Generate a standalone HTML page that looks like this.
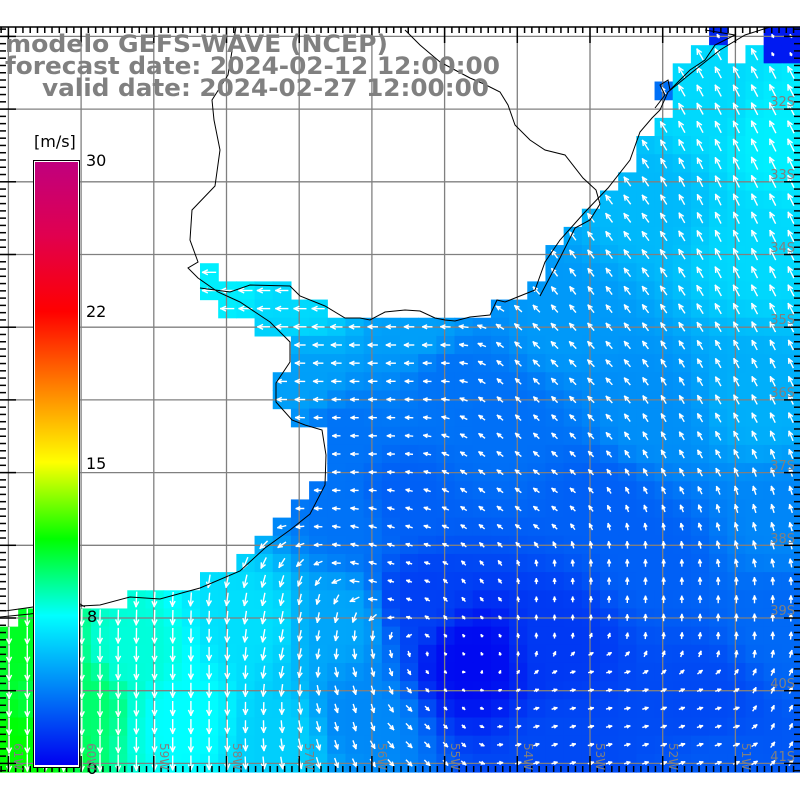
<!DOCTYPE html>
<html><head><meta charset="utf-8"><style>
html,body{margin:0;padding:0;background:#fff;width:800px;height:800px;overflow:hidden}
svg{display:block}
</style></head><body>
<svg id="s" width="800" height="800" xmlns="http://www.w3.org/2000/svg">
<rect width="800" height="800" fill="#fff"/>
<g id="cells"></g>
<g id="grid" stroke="#808080" stroke-width="1.3" fill="none"></g>
<g id="arrows" stroke="#fff" stroke-width="1.4" fill="none" stroke-linecap="square"></g>
<g id="coast" stroke="#000" stroke-width="1" fill="none">
<polyline points="0,617 30,614 60,610 80,606 100,605 130,597 160,599 200,588 240,571 265,548 290,530 310,514 325,485 326,455 322,430 305,425 292,420 276,402 276,383 290,362 290,342 270,322 240,302 218,292 198,278 188,268 198,262 190,240 192,210 215,186 220,150 214,120 212,100 228,75 233,45 236,27"/>
<polyline points="5,611 40,606 80,604 85,607"/>
<polyline points="200,288 230,292 250,285 290,286 300,296 325,306 345,318 360,318 370,320 385,312 405,310 420,311 435,318 445,320 455,321 470,317 490,315 497,300 505,302 520,296 535,290 545,262 560,240 585,212 608,188 630,160 640,132 652,118 660,110 668,92 690,74 720,50 745,35 770,27"/>
<polyline points="540,296 560,258 575,228 590,220 600,204 596,190 583,178 565,155 545,150 530,140 515,125 508,105 500,92 484,84 470,78 455,70 440,62 420,45 405,30"/>
<polyline points="655,108 665,95 660,85 668,80 670,90 680,80 690,70 705,60 715,45 725,40 735,35 705,30"/>
</g>
<g id="frame" stroke="#000" stroke-width="1.5"></g>
<g font-family="'DejaVu Sans','Liberation Sans',sans-serif" font-weight="bold" font-size="24" fill="#808080">
<text x="5" y="52" textLength="383" lengthAdjust="spacingAndGlyphs">modelo GEFS-WAVE (NCEP)</text>
<text x="5" y="74" textLength="495" lengthAdjust="spacingAndGlyphs">forecast date: 2024-02-12 12:00:00</text>
<text x="42" y="96" textLength="447" lengthAdjust="spacingAndGlyphs">valid date: 2024-02-27 12:00:00</text>
</g>
<defs><linearGradient id="cb" x1="0" y1="1" x2="0" y2="0">
<stop offset="0" stop-color="#0000f0"/>
<stop offset="0.248" stop-color="#00ffff"/>
<stop offset="0.375" stop-color="#00ff00"/>
<stop offset="0.502" stop-color="#ffff00"/>
<stop offset="0.627" stop-color="#ff8000"/>
<stop offset="0.752" stop-color="#ff0000"/>
<stop offset="0.88" stop-color="#e00050"/>
<stop offset="1" stop-color="#c0007e"/>
</linearGradient></defs>
<rect x="33" y="160" width="47" height="608" fill="#000"/>
<rect x="34" y="161" width="45" height="606" fill="#fff"/>
<rect x="35" y="162" width="43" height="603" fill="url(#cb)"/>
<g font-family="'DejaVu Sans','Liberation Sans',sans-serif" font-size="16" fill="#000">
<text x="34" y="147">[m/s]</text>
<text x="86" y="166">30</text>
<text x="86" y="317">22</text>
<text x="86" y="469">15</text>
<text x="87" y="622">8</text>
<text x="87" y="774">0</text>
</g>
<g font-family="'DejaVu Sans','Liberation Sans',sans-serif" font-size="13" fill="#808080" text-anchor="end">
<text x="795" y="106">32S</text><text x="795" y="179">33S</text><text x="795" y="252">34S</text>
<text x="795" y="324">35S</text><text x="795" y="397">36S</text><text x="795" y="470">37S</text>
<text x="795" y="543">38S</text><text x="795" y="615">39S</text><text x="795" y="688">40S</text>
<text x="795" y="761">41S</text>
</g>
<g font-family="'DejaVu Sans','Liberation Sans',sans-serif" font-size="12" fill="#808080">
<text transform="translate(14,743) rotate(90)">61W</text>
<text transform="translate(87,743) rotate(90)">60W</text>
<text transform="translate(160,743) rotate(90)">59W</text>
<text transform="translate(233,743) rotate(90)">58W</text>
<text transform="translate(305,743) rotate(90)">57W</text>
<text transform="translate(378,743) rotate(90)">56W</text>
<text transform="translate(451,743) rotate(90)">55W</text>
<text transform="translate(524,743) rotate(90)">54W</text>
<text transform="translate(596,743) rotate(90)">53W</text>
<text transform="translate(669,743) rotate(90)">52W</text>
<text transform="translate(742,743) rotate(90)">51W</text>
</g>
</svg>
<script>
(function(){
var NS="http://www.w3.org/2000/svg";
function el(t,a,p){var e=document.createElementNS(NS,t);for(var k in a)e.setAttribute(k,a[k]);p.appendChild(e);return e;}
var CW=800/44, RH=745/41, Y0=27;
var rowStart={13:11,14:11,15:12,16:14,17:16,18:16,19:15,20:15,21:16,22:18,23:18,24:18,25:17,26:16,27:15,28:14,29:13,30:11,31:7,32:1};
var colTop={18:16,19:16,20:16,21:16,22:16,23:16,24:16,25:16,26:16,27:15,28:15,29:14,30:12,31:11,32:10,33:9,34:8,35:6,36:5,37:2,38:1,39:0,40:2,41:1,42:0,43:0};
function isSea(c,r){
  if(c==36&&r==3) return true;
  if(c>=18){ if(r<colTop[c]) return false; }
  if(r<13) return c>=18 && r>=colTop[c];
  if(r==13) return c==11 || (c>=18&&r>=colTop[c]);
  if(r==14) return (c>=11&&c<=15) || (c>=18&&r>=colTop[c]);
  if(r==15) return (c>=12&&c<=17) || (c>=18&&r>=colTop[c]);
  if(r>=33) return true;
  return c>=rowStart[r];
}
var sp=[[20,640,11],[20,760,11.5],[80,700,10],[130,650,8.5],[180,720,8],[250,620,7],[280,740,6.5],[340,620,5.2],[360,720,4.3],[470,660,0.3],[420,600,2],[560,640,1.8],[700,700,2.3],[780,620,3.3],[650,560,3],[400,500,3],[340,440,3.6],[500,420,3.5],[450,380,3.6],[350,520,3.6],[300,380,5],[220,280,7.5],[300,300,6.8],[420,330,5],[560,320,4.8],[650,420,4.5],[760,400,5.5],[760,250,6.8],[650,200,5.8],[700,100,6.8],[780,140,7.5],[600,500,3],[780,520,4.2],[560,760,2.3],[720,770,2.8]];
var dp=[[50,700,0,1],[200,680,0,1],[300,650,-0.2,1],[350,700,0.3,1],[420,730,0.7,0.7],[250,300,-1,0],[400,350,-1,0],[350,450,-1,0],[400,550,-1,-0.3],[480,600,-0.5,-0.6],[550,600,0,-1],[650,600,0,-1],[750,620,0,-1],[600,700,1,-0.2],[720,720,1,-0.3],[780,700,0.4,-0.9],[550,400,-0.7,-0.7],[600,250,-0.6,-0.8],[750,200,-0.45,-0.9],[700,450,-0.5,-0.85],[520,500,-0.8,-0.6],[750,520,-0.3,-0.95],[560,740,1,-0.3]];
function idw(x,y,pts,i){var sw=0,s=0;for(var k=0;k<pts.length;k++){var dx=x-pts[k][0],dy=y-pts[k][1],d=dx*dx+dy*dy+1;var w=1/(d*d);sw+=w;s+=w*pts[k][i];}return s/sw;}
function col(v){var r,g,b;
  if(v<=8){r=0;g=255*v/8;b=240+15*v/8;}
  else if(v<=11.5){var t=(v-8)/3.5;r=0;g=255;b=255*(1-t);}
  else {var t=Math.min(1,(v-11.5)/3.5);r=255*t;g=255;b=0;}
  return "rgb("+Math.round(r)+","+Math.round(g)+","+Math.round(b)+")";}
var cells=document.getElementById("cells"),arr=document.getElementById("arrows");
for(var r=0;r<41;r++)for(var c=0;c<44;c++){
  if(!isSea(c,r))continue;
  var x=c*CW,y=Y0+r*RH,cx=x+CW/2,cy=y+RH/2;
  var v=idw(cx,cy,sp,2);
  if(r<=1&&c>=42) v=0.8; if(r==0&&c==39) v=1.2; if(c==36&&r==3) v=3.5;
  el("rect",{x:x.toFixed(2),y:y.toFixed(2),width:(CW+0.6).toFixed(2),height:(RH+0.6).toFixed(2),fill:col(v)},cells);
  var dx=idw(cx,cy,dp,2),dy=idw(cx,cy,dp,3),n=Math.sqrt(dx*dx+dy*dy)||1;dx/=n;dy/=n;
  var L=Math.min(16,1.5*v+1.5);
  var tx=cx-dx*L/2,ty=cy-dy*L/2,hx=cx+dx*L/2,hy=cy+dy*L/2;
  el("line",{x1:tx.toFixed(1),y1:ty.toFixed(1),x2:hx.toFixed(1),y2:hy.toFixed(1)},arr);
  var h=Math.min(5,1+L*0.35);
  for(var s=-1;s<=1;s+=2){var a=Math.atan2(dy,dx)+Math.PI+s*0.45;
    el("line",{x1:hx.toFixed(1),y1:hy.toFixed(1),x2:(hx+h*Math.cos(a)).toFixed(1),y2:(hy+h*Math.sin(a)).toFixed(1)},arr);}
}
var g=document.getElementById("grid");
for(var k=0;k<11;k++){var gx=8.4+72.7*k;el("line",{x1:gx,y1:27,x2:gx,y2:772},g);}
for(var k=0;k<11;k++){var gy=36.4+72.7*k;el("line",{x1:0,y1:gy,x2:800,y2:gy},g);}
var f=document.getElementById("frame");
el("line",{x1:0,y1:27,x2:800,y2:27},f);
for(var k=-1;k<110;k++){var tx=8.4+7.27*k;if(tx<0||tx>800)continue;var big=(k%10==0);
  el("line",{x1:tx,y1:27,x2:tx,y2:big?43:33},f);el("line",{x1:tx,y1:772,x2:tx,y2:big?756:766},f);}
for(var k=-1;k<110;k++){var ty=36.4+7.27*k;if(ty<27||ty>772)continue;var big=(k%10==0);
  el("line",{x1:0,y1:ty,x2:big?16:6,y2:ty},f);el("line",{x1:800,y1:ty,x2:big?784:794,y2:ty},f);}
})();
</script>
</body></html>
